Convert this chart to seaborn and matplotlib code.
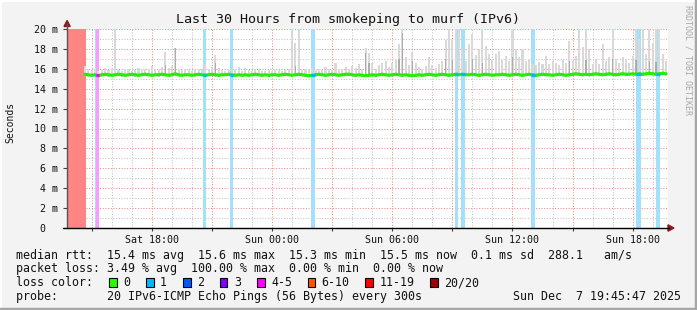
import numpy as np
import pandas as pd
import matplotlib
matplotlib.use("Agg")
import matplotlib.pyplot as plt
import seaborn as sns
from matplotlib.patches import Polygon, Rectangle
from matplotlib.lines import Line2D

NaN = np.nan

# ---------------- data ----------------
title = "Last 30 Hours from smokeping to murf (IPv6)"
t_start = 13.763          # Sat 13:45:47 in hours since Sat 00:00
t_end = 43.763            # Sun 19:45:47
bin0 = 13.75              # first 10-minute bin start
bin_h = 1.0 / 6.0         # 10-minute bins

median_ms = [
    NaN, NaN, NaN, NaN, NaN, 15.45, 15.40, 15.35, 15.40, 15.30, 15.40, 15.45,
    15.40, 15.35, 15.40, 15.45, 15.40, 15.35, 15.40, 15.45, 15.40, 15.35, 15.40, 15.45,
    15.40, 15.35, 15.40, 15.40, 15.45, 15.40, 15.35, 15.40, 15.50, 15.40, 15.35, 15.40,
    15.40, 15.35, 15.40, 15.45, 15.40, 15.35, 15.40, 15.45, 15.40, 15.35, 15.40, 15.40,
    15.45, 15.40, 15.35, 15.40, 15.35, 15.40, 15.35, 15.40, 15.45, 15.40, 15.35, 15.40,
    15.35, 15.40, 15.40, 15.35, 15.40, 15.45, 15.40, 15.35, 15.40, 15.45, 15.40, 15.35,
    15.30, 15.35, 15.40, 15.45, 15.40, 15.35, 15.40, 15.45, 15.40, 15.35, 15.40, 15.45,
    15.45, 15.40, 15.35, 15.40, 15.35, 15.30, 15.35, 15.40, 15.35, 15.40, 15.45, 15.40,
    15.35, 15.40, 15.45, 15.40, 15.35, 15.40, 15.35, 15.30, 15.35, 15.40, 15.35, 15.40,
    15.45, 15.40, 15.35, 15.40, 15.45, 15.40, 15.35, 15.40, 15.45, 15.40, 15.45, 15.40,
    15.40, 15.45, 15.40, 15.35, 15.40, 15.45, 15.40, 15.35, 15.40, 15.40, 15.45, 15.40,
    15.35, 15.40, 15.45, 15.40, 15.35, 15.40, 15.45, 15.40, 15.35, 15.40, 15.45, 15.40,
    15.40, 15.35, 15.40, 15.45, 15.40, 15.35, 15.40, 15.45, 15.50, 15.45, 15.40, 15.45,
    15.40, 15.45, 15.50, 15.45, 15.40, 15.45, 15.50, 15.45, 15.40, 15.45, 15.50, 15.45,
    15.45, 15.50, 15.45, 15.50, 15.45, 15.50, 15.55, 15.50, 15.45, 15.50, 15.55, 15.50,
]

smoke_hi = [
    NaN, NaN, NaN, NaN, NaN, 16.3, 16.0, 15.9, 16.0, 15.8, 15.9, 16.1,
    15.9, 16.0, 20.0, 15.9, 15.8, 15.9, 16.0, 15.8, 15.9, 16.1, 15.9, 16.0,
    16.0, 16.3, 16.0, 15.9, 16.2, 17.7, 16.1, 16.3, 18.1, 16.0, 15.9, 16.0,
    15.9, 15.8, 15.9, 16.0, 16.0, 16.5, 16.0, 16.2, 17.4, 16.1, 15.9, 15.8,
    15.9, 16.0, 15.9, 16.2, 15.8, 16.1, 15.9, 15.8, 15.9, 16.0, 15.8, 15.8,
    15.9, 15.8, 15.9, 15.9, 15.8, 15.9, 16.0, 20.0, 18.6, 20.0, 15.9, 16.0,
    15.9, 16.1, 15.9, 16.0, 15.9, 16.2, 16.0, 15.9, 16.6, 15.9, 16.0, 16.2,
    16.0, 16.3, 16.1, 16.5, 16.0, 18.1, 17.6, 16.6, 16.0, 16.4, 16.6, 16.8,
    16.2, 16.6, 16.9, 18.5, 20.0, 17.2, 16.4, 17.7, 16.6, 16.2, 16.0, 16.3,
    17.2, 16.4, 16.1, 16.5, 16.8, 18.9, 20.0, 19.0, 20.0, 20.0, 18.0, 16.8,
    18.5, 19.5, 17.4, 18.0, 20.0, 18.3, 17.5, 16.9, 17.5, 17.8, 16.9, 17.3,
    16.8, 20.0, 18.0, 17.2, 18.0, 16.8, 17.0, 16.5, 16.4, 16.7, 16.5, 17.3,
    16.5, 16.8, 16.6, 16.4, 16.9, 16.6, 18.8, 16.8, 17.3, 20.0, 18.2, 20.0,
    18.0, 16.5, 17.0, 16.5, 18.5, 16.8, 17.2, 20.0, 17.0, 16.6, 17.2, 16.9,
    16.6, 17.3, 20.0, 19.0, 20.0, 17.5, 20.0, 18.6, 20.0, 20.0, 17.5, 16.8,
]

smoke_lo = [
    NaN, NaN, NaN, NaN, NaN, 15.25, 15.20, 15.20, 15.25, 15.15, 15.25, 15.25,
    15.20, 15.20, 15.25, 15.25, 15.20, 15.20, 15.25, 15.25, 15.20, 15.20, 15.25, 15.25,
    15.25, 15.20, 15.25, 15.20, 15.25, 15.25, 15.20, 15.25, 15.30, 15.20, 15.20, 15.25,
    15.25, 15.20, 15.20, 15.25, 15.25, 15.20, 15.25, 15.25, 15.20, 15.20, 15.25, 15.25,
    15.25, 15.25, 15.20, 15.25, 15.20, 15.25, 15.20, 15.25, 15.25, 15.25, 15.20, 15.25,
    15.20, 15.25, 15.25, 15.20, 15.25, 15.25, 15.25, 15.20, 15.25, 15.25, 15.25, 15.20,
    15.15, 15.20, 15.25, 15.25, 15.25, 15.20, 15.25, 15.25, 15.25, 15.20, 15.25, 15.25,
    15.25, 15.25, 15.20, 15.25, 15.20, 15.15, 15.20, 15.25, 15.20, 15.25, 15.25, 15.25,
    15.20, 15.25, 15.25, 15.25, 15.20, 15.25, 15.20, 15.15, 15.20, 15.25, 15.20, 15.25,
    15.25, 15.25, 15.20, 15.25, 15.25, 15.25, 15.20, 15.25, 15.25, 15.25, 15.25, 15.25,
    15.25, 15.25, 15.25, 15.20, 15.25, 15.25, 15.25, 15.20, 15.25, 15.25, 15.25, 15.25,
    15.20, 15.25, 15.25, 15.25, 15.20, 15.25, 15.25, 15.25, 15.20, 15.25, 15.25, 15.25,
    15.25, 15.20, 15.25, 15.25, 15.25, 15.20, 15.25, 15.25, 15.30, 15.25, 15.25, 15.25,
    15.25, 15.25, 15.30, 15.25, 15.25, 15.25, 15.30, 15.25, 15.25, 15.25, 15.30, 15.25,
    15.25, 15.30, 15.25, 15.30, 15.25, 15.30, 15.35, 15.30, 15.25, 15.30, 15.35, 15.30,
]

# darker (denser) smoke cores: bin index and top value (ms)
dark_bins = [29, 32, 44, 68, 89, 90, 99, 100, 103, 113, 115, 121, 124, 133, 150, 155, 163, 170, 174, 176]
dark_hi = [16.4, 18.1, 16.6, 16.3, 17.6, 16.6, 17.0, 19.6, 16.8, 17.0, 16.9, 17.0, 16.6, 17.2, 16.8, 16.9, 17.0, 16.9, 16.8, 16.7]

# packet-loss periods: start hour, end hour, number of lost pings (of 20)
loss_t0 = [13.763, 15.136, 15.211, 20.538, 21.886, 25.945, 33.119, 33.434, 36.928, 42.170, 43.170]
loss_t1 = [14.687, 15.186, 15.336, 20.703, 22.036, 26.145, 33.284, 33.634, 37.128, 42.420, 43.370]
loss_n = [20, 1, 4, 1, 1, 1, 1, 1, 1, 1, 1]

# loss colour legend
loss_labels = ["0", "1", "2", "3", "4-5", "6-10", "11-19", "20/20"]
loss_colors = ["#26ff00", "#00b8ff", "#0059ff", "#7e00ff", "#ff00ff", "#ff5500", "#ff0000", "#a10000"]

# axis ticks
xtick_hours = [15, 18, 21, 24, 27, 30, 33, 36, 39, 42]
xtick_labels = ["", "Sat 18:00", "", "Sun 00:00", "", "Sun 06:00", "", "Sun 12:00", "", "Sun 18:00"]
ytick_vals = [0, 2, 4, 6, 8, 10, 12, 14, 16, 18, 20]
ytick_labels = ["0  ", "2 m", "4 m", "6 m", "8 m", "10 m", "12 m", "14 m", "16 m", "18 m", "20 m"]

legend_lines = [
    "median rtt:  15.4 ms avg  15.6 ms max  15.3 ms min  15.5 ms now  0.1 ms sd  288.1   am/s",
    "packet loss: 3.49 % avg  100.00 % max  0.00 % min  0.00 % now",
    "loss color:",
    "probe:       20 IPv6-ICMP Echo Pings (56 Bytes) every 300s",
]
stamp = "Sun Dec  7 19:45:47 2025"
side_text = "RRDTOOL / TOBI OETIKER"

# ---------------- style ----------------
sns.set_theme(style="white")
MONO = "DejaVu Sans Mono"
plt.rcParams["font.family"] = [MONO, "DejaVu Sans"]

W, H = 697, 310
BG = "#f3f3f3"
fig = plt.figure(figsize=(W / 100, H / 100), dpi=100, facecolor=BG)


def fx(x):
    return x / W


def fy(y):
    return 1 - y / H


ax = fig.add_axes([fx(67), fy(228), (668 - 67) / W, (228 - 29) / H])
ax.set_facecolor("white")
ax.set_xlim(t_start, t_end)
ax.set_ylim(0, 20)

# grid
ax.set_xticks(xtick_hours)
ax.set_xticklabels(xtick_labels)
ax.set_xticks(list(range(14, 44)), minor=True)
ax.set_yticks(ytick_vals)
ax.set_yticklabels(ytick_labels)
ax.set_yticks(list(range(1, 20, 2)), minor=True)
ax.grid(which="minor", color="#c4c4c4", ls=(0, (1, 1.6)), lw=0.75)
ax.grid(which="major", color="#f08c8c", ls=(0, (1, 1.6)), lw=0.75)
ax.set_axisbelow(True)
for lab in ax.get_xticklabels() + ax.get_yticklabels():
    lab.set_fontfamily(MONO)
ax.tick_params(axis="y", which="major", length=3, width=0.8, color="#404040",
               pad=3.5, labelsize=7.2, labelcolor="#111111", left=True)
ax.tick_params(axis="x", which="major", length=2, width=0.8, color="#404040",
               pad=3.0, labelsize=7.2, labelcolor="#111111", bottom=True)
ax.tick_params(which="minor", length=0)
for s in ax.spines.values():
    s.set_visible(False)

# time axis of bins
t = bin0 + (np.arange(len(median_ms)) + 0.5) * bin_h
med = np.array(median_ms, dtype=float)
hi = np.array(smoke_hi, dtype=float)
lo = np.array(smoke_lo, dtype=float)
valid = ~np.isnan(med)

loss_color_of = {0: "#26ff00", 1: "#00b8ff", 2: "#0059ff", 3: "#7e00ff",
                 4: "#ff00ff", 5: "#ff00ff", 20: "#a10000"}
band_color_of = {1: "#a3e1fb", 4: "#ff99ff", 20: "#ff8585"}

# loss background bands
for a, b, n in zip(loss_t0, loss_t1, loss_n):
    ax.axvspan(a, b, ymin=0, ymax=1, color=band_color_of[n], lw=0, zorder=1)

# smoke
ax.bar(t[valid], (hi - lo)[valid], bottom=lo[valid], width=bin_h * 0.62,
       color="#d9d9d9", lw=0, zorder=2)
db = np.array(dark_bins)
ax.bar(t[db], np.array(dark_hi) - med[db], bottom=med[db], width=bin_h * 0.4,
       color="#acacac", lw=0, zorder=3)

# median line
df = pd.DataFrame({"time": t[valid], "median": med[valid]})
sns.lineplot(data=df, x="time", y="median", color="#22f000", lw=2.3, ax=ax,
             zorder=5, estimator=None, sort=True)
ax.set_xlabel("")
ax.set_ylabel("")
for a, b, n in zip(loss_t0, loss_t1, loss_n):
    if n >= 20:
        continue
    m = np.interp((a + b) / 2, t[valid], med[valid])
    ax.plot([a, b], [m, m], color=loss_color_of[n], lw=2.3,
            solid_capstyle="butt", zorder=6)
ax.set_xlim(t_start, t_end)
ax.set_ylim(0, 20)

# axis lines with arrows
fig.add_artist(Line2D([fx(67), fx(67)], [fy(228), fy(23)], color="#555555", lw=1.0))
fig.add_artist(Line2D([fx(63), fx(669)], [fy(228), fy(228)], color="#000000", lw=1.0))
fig.add_artist(Polygon([[fx(64), fy(26.5)], [fx(70.2), fy(26.5)], [fx(67.1), fy(20.5)]],
                       closed=True, color="#8b1a1a", transform=fig.transFigure))
fig.add_artist(Polygon([[fx(668), fy(224.8)], [fx(668), fy(231.2)], [fx(674), fy(228)]],
                       closed=True, color="#8b1a1a", transform=fig.transFigure))

# texts
fig.text(fx(348), fy(23.5), title, fontsize=9.6, family=MONO, ha="center",
         va="baseline", color="#111111")
fig.text(fx(10), fy(122), "Seconds", fontsize=7.0, family=MONO, rotation=90,
         ha="center", va="center", color="#111111")
fig.text(fx(688), fy(5), side_text, fontsize=6.0, family=MONO, rotation=270,
         ha="center", va="top", color="#a8a8a8")

base_y = [258.5, 272, 286, 300]
for s, y in zip(legend_lines, base_y):
    fig.text(fx(16), fy(y), s, fontsize=8.4, family=MONO, ha="left",
             va="baseline", color="#111111")
fig.text(fx(681), fy(300), stamp, fontsize=8.4, family=MONO, ha="right",
         va="baseline", color="#111111")

sq_x = [109, 146, 183, 220, 257, 307.6, 365.3, 430.2]
lab_x = [123.6, 160, 196.9, 233.8, 271.1, 320.9, 380, 444.4]
for sx, lx, lab, col in zip(sq_x, lab_x, loss_labels, loss_colors):
    fig.add_artist(Rectangle((fx(sx), fy(287)), 7.5 / W, 9 / H, transform=fig.transFigure,
                             facecolor=col, edgecolor="black", lw=0.8))
    fig.text(fx(lx), fy(286), lab, fontsize=8.4, family=MONO, ha="left",
             va="baseline", color="#111111")

# 3D frame
fig.add_artist(Line2D([fx(0.5), fx(0.5)], [fy(0), fy(310)], color="white", lw=1.5))
fig.add_artist(Line2D([fx(0), fx(697)], [fy(0.5), fy(0.5)], color="white", lw=1.5))
fig.add_artist(Line2D([fx(695.5), fx(695.5)], [fy(0), fy(310)], color="#a6a6a6", lw=2.5))
fig.add_artist(Line2D([fx(0), fx(697)], [fy(308.5), fy(308.5)], color="#a6a6a6", lw=2.5))

fig.savefig("out.png", dpi=100, facecolor=BG)
